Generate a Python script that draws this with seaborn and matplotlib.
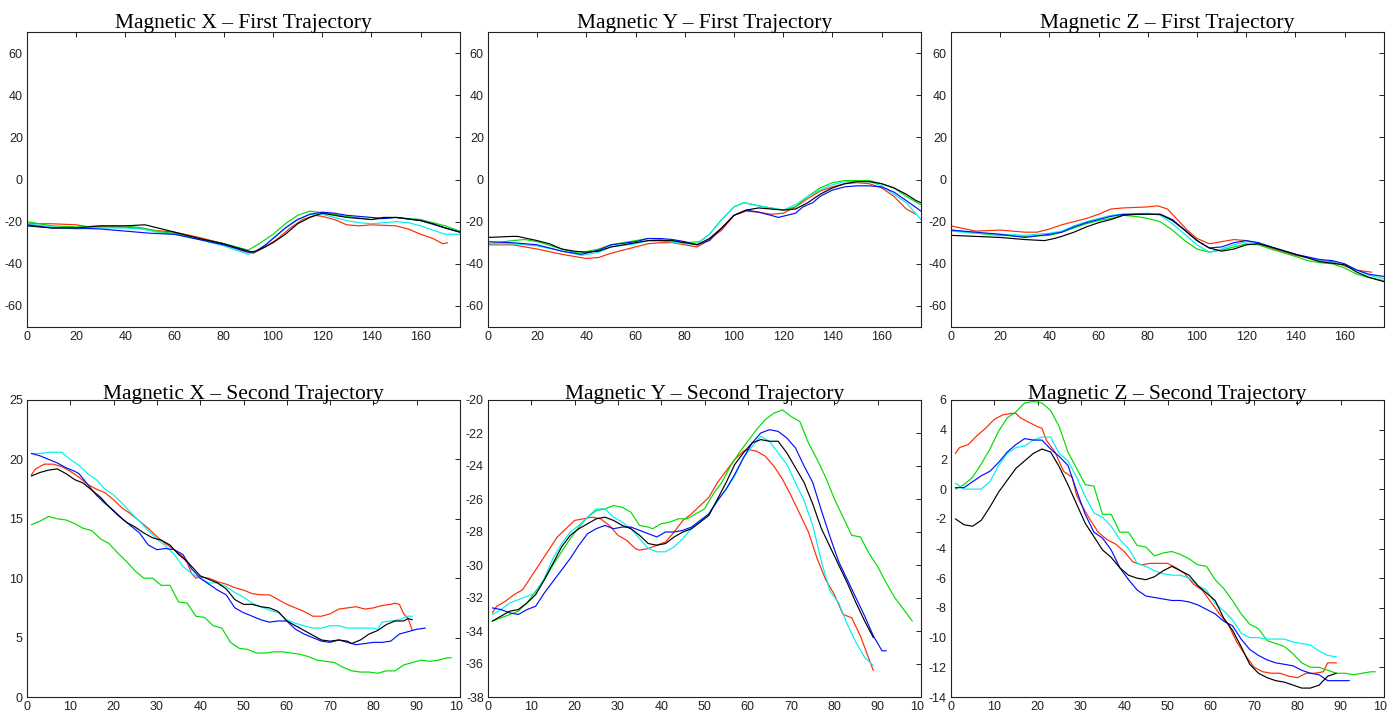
import pandas as pd
import numpy as np
from matplotlib import pyplot as plt
from matplotlib.transforms import Bbox, TransformedBbox
import seaborn as sns

# ---- First trajectory, magnetic X : (sample, value)
MX1_RED = [(0, -21), (10, -21), (20, -21.5), (25, -22.5), (35, -22.5), (45, -23), (50, -24), (60, -25),
           (70, -27.5), (80, -30.5), (88, -34), (92, -35), (97, -32), (102, -28), (107, -23), (112, -19),
           (117, -17), (120, -17.5), (125, -19), (130, -21.5), (135, -22), (140, -21.5), (150, -22),
           (155, -23.5), (160, -26), (165, -28), (169, -30.5), (171, -30)]
MX1_GREEN = [(0, -20), (5, -21), (10, -22), (20, -22.5), (30, -22), (40, -22), (47, -23), (55, -25),
             (60, -25.5), (70, -28), (80, -30.5), (90, -33.5), (95, -30), (100, -26), (105, -21), (110, -17),
             (115, -15), (118, -15.5), (122, -16), (130, -17.5), (140, -19), (150, -18), (160, -19),
             (170, -22), (176, -24.5)]
MX1_BLUE = [(0, -21.5), (10, -23), (20, -23), (30, -23.5), (40, -24.5), (50, -25.5), (60, -26), (70, -28.5),
            (80, -31), (90, -34.5), (93, -34), (97, -31), (100, -28), (105, -23), (110, -19), (115, -16.5),
            (120, -15.5), (125, -16), (130, -17), (140, -18), (145, -18.5), (150, -18), (160, -19.5),
            (170, -23), (176, -25)]
MX1_CYAN = [(0, -21), (10, -22.5), (20, -23.5), (30, -23), (40, -23), (47, -23.5), (55, -25.5), (60, -26),
            (70, -28.5), (80, -31.5), (90, -35.5), (95, -33), (100, -28), (105, -23), (110, -19), (115, -16.5),
            (120, -16.5), (125, -18), (130, -19.5), (135, -20.5), (140, -21), (150, -20), (155, -20.5),
            (160, -22), (165, -24), (170, -26), (176, -26)]
MX1_BLACK = [(0, -22), (10, -23), (20, -23), (30, -22), (40, -22), (48, -21.5), (60, -25), (70, -28),
             (80, -30.5), (90, -34), (92, -34.5), (95, -33), (100, -30), (105, -26), (110, -21), (115, -18),
             (120, -16), (125, -17), (130, -18), (140, -19), (145, -18), (150, -18), (160, -19.5),
             (165, -21), (170, -23), (176, -25)]

# ---- First trajectory, magnetic Y
MY1_RED = [(0, -31), (10, -31), (20, -33), (30, -35.5), (40, -37.5), (45, -37), (50, -35), (55, -33.5),
           (60, -32), (65, -30.5), (70, -30), (75, -30), (80, -31), (85, -32), (88, -30), (95, -24),
           (100, -17), (105, -15), (110, -15.5), (115, -16.5), (120, -16), (125, -13), (130, -9),
           (135, -5.5), (140, -3.5), (145, -2), (150, -1.5), (155, -2), (160, -4), (165, -8), (170, -14),
           (174, -16.5)]
MY1_GREEN = [(0, -30.5), (10, -29), (15, -28.5), (20, -29.5), (30, -33), (37, -35), (45, -33), (50, -31),
             (60, -29), (65, -28), (70, -28.5), (80, -30), (86, -29.5), (90, -26), (95, -19), (100, -13),
             (104, -11), (110, -12.5), (120, -14.5), (125, -13), (130, -8), (135, -4), (140, -1.5),
             (145, -0.5), (150, -0.5), (155, -0.5), (160, -2), (165, -4), (170, -8), (176, -12)]
MY1_BLUE = [(0, -29.5), (10, -30), (20, -31), (30, -34), (38, -35.5), (45, -33.5), (50, -31), (60, -29.5),
            (65, -28), (70, -28), (75, -28.5), (80, -29.5), (85, -31), (90, -29), (95, -23), (100, -17),
            (105, -14.5), (110, -15.5), (115, -17), (118, -18), (125, -16), (128, -13), (132, -11),
            (135, -8), (140, -5), (145, -3.5), (150, -3), (155, -3), (160, -3.5), (165, -6), (170, -10),
            (176, -15)]
MY1_CYAN = [(0, -30.5), (10, -30.5), (20, -31.5), (30, -34), (38, -36), (45, -34.5), (50, -32), (60, -30.5),
            (65, -29), (70, -29), (80, -30.5), (85, -30.5), (90, -26), (95, -19), (100, -13), (104, -11),
            (108, -12), (115, -13.5), (120, -14.5), (125, -12), (130, -8), (135, -5), (140, -2.5),
            (145, -1), (150, -1), (155, -1), (160, -3), (165, -7), (170, -11), (176, -19)]
MY1_BLACK = [(0, -27.5), (10, -27), (12, -27), (20, -29), (25, -30.5), (30, -33), (35, -34), (40, -34.5),
             (45, -34), (50, -32), (55, -31), (60, -30), (65, -29), (75, -29), (80, -30), (85, -31),
             (90, -28), (95, -23), (100, -17), (105, -14.5), (110, -13.5), (115, -14), (120, -14.5),
             (125, -14), (130, -11), (135, -7), (140, -4), (145, -2), (150, -1), (155, -1), (160, -2),
             (165, -4), (170, -7), (174, -10), (176, -11)]

# ---- First trajectory, magnetic Z
MZ1_RED = [(0, -22), (10, -24.5), (20, -24), (30, -25), (35, -25), (40, -23.5), (45, -21.5), (50, -20),
           (55, -18.5), (60, -16.5), (65, -14), (70, -13.5), (80, -13), (84, -12.5), (88, -14), (92, -19),
           (96, -24), (100, -28), (105, -30.5), (110, -29.5), (115, -28.5), (120, -29), (125, -30.5),
           (130, -32.5), (140, -36), (145, -37), (150, -38.5), (155, -39), (160, -41), (165, -43), (171, -44)]
MZ1_GREEN = [(0, -24), (10, -25.5), (20, -26.5), (30, -27), (40, -26.5), (45, -25), (50, -23), (55, -21),
             (60, -19.5), (65, -18.5), (70, -17), (75, -17.5), (80, -18.5), (85, -20), (90, -24), (95, -29),
             (100, -33), (105, -34.5), (110, -33.5), (115, -32), (120, -30.5), (125, -31), (130, -33),
             (140, -36.5), (145, -38.5), (150, -39.5), (155, -40), (160, -42), (165, -45), (170, -46.5),
             (176, -48)]
MZ1_BLUE = [(0, -24), (10, -25), (20, -26), (30, -27.5), (40, -26), (45, -25), (50, -22.5), (55, -20.5),
            (60, -19), (65, -17.5), (70, -16.5), (80, -16.5), (85, -16.5), (90, -19), (95, -24), (100, -29),
            (105, -32.5), (110, -32), (115, -30), (120, -29), (125, -30), (130, -32), (140, -35.5),
            (150, -38), (155, -38.5), (160, -40), (165, -43), (170, -45), (176, -46)]
MZ1_CYAN = [(0, -24.5), (10, -25.5), (20, -26), (30, -26.5), (40, -25.5), (45, -24.5), (50, -22), (55, -20),
            (60, -18.5), (65, -17), (70, -16.5), (80, -16), (85, -17), (90, -21), (95, -26), (100, -31),
            (105, -34.5), (110, -33), (115, -31), (120, -29.5), (125, -30), (130, -32), (140, -35.5),
            (150, -38.5), (160, -40.5), (165, -43), (170, -45.5), (176, -47)]
MZ1_BLACK = [(0, -26.5), (10, -27), (20, -27.5), (30, -28.5), (38, -29), (42, -28), (45, -27), (50, -25),
             (55, -22.5), (60, -20.5), (65, -19), (70, -17), (75, -16.5), (85, -16.5), (90, -19.5),
             (95, -24), (100, -29), (105, -32.5), (110, -34), (115, -33), (120, -31), (125, -30.5),
             (130, -32), (140, -35.5), (150, -39), (160, -40.5), (165, -44), (170, -46.5), (176, -48.5)]

# ---- Second trajectory, magnetic X
MX2_RED = [(1, 18.7), (2, 19.2), (4, 19.6), (6, 19.6), (8, 19.4), (10, 19.0), (12, 18.5), (14, 17.9),
           (16, 17.5), (18, 17.2), (20, 16.6), (22, 15.9), (24, 15.4), (26, 14.8), (28, 14.2), (30, 13.5),
           (32, 12.9), (34, 12.4), (36, 11.8), (37, 11.3), (38, 10.4), (39, 10.0), (40, 10.1), (42, 10.0),
           (44, 9.7), (46, 9.5), (48, 9.2), (50, 9.0), (52, 8.7), (54, 8.6), (56, 8.6), (58, 8.2), (60, 7.8),
           (62, 7.5), (64, 7.2), (66, 6.8), (68, 6.8), (70, 7.0), (72, 7.4), (74, 7.5), (76, 7.6), (78, 7.4),
           (80, 7.5), (82, 7.7), (84, 7.8), (85, 7.9), (86, 7.8), (87, 7.0), (88, 6.6), (89, 5.6)]
MX2_GREEN = [(1, 14.5), (3, 14.8), (5, 15.2), (7, 15.0), (9, 14.9), (11, 14.6), (13, 14.2), (15, 14.0),
             (17, 13.3), (19, 12.9), (21, 12.1), (23, 11.4), (25, 10.6), (27, 10.0), (29, 10.0), (31, 9.4),
             (33, 9.4), (35, 8.0), (37, 7.9), (39, 6.8), (41, 6.7), (43, 6.0), (45, 5.8), (47, 4.6),
             (49, 4.1), (51, 4.0), (53, 3.7), (55, 3.7), (57, 3.8), (59, 3.8), (61, 3.7), (63, 3.6),
             (65, 3.4), (67, 3.1), (69, 3.0), (71, 2.9), (73, 2.5), (75, 2.2), (77, 2.1), (79, 2.1),
             (81, 2.0), (83, 2.2), (85, 2.2), (87, 2.7), (89, 2.9), (91, 3.1), (93, 3.0), (95, 3.1),
             (97, 3.3), (98, 3.3)]
MX2_BLUE = [(1, 20.5), (3, 20.3), (5, 20.0), (7, 19.7), (9, 19.3), (11, 19.0), (12, 18.8), (14, 17.9),
            (16, 17.0), (18, 16.3), (20, 15.7), (22, 15.0), (24, 14.4), (26, 13.8), (28, 12.8), (30, 12.4),
            (32, 12.5), (34, 12.4), (36, 12.0), (38, 10.8), (40, 10.0), (42, 9.5), (44, 9.0), (46, 8.6),
            (48, 7.5), (50, 7.1), (52, 6.8), (54, 6.5), (56, 6.3), (58, 6.4), (60, 6.4), (62, 5.7),
            (64, 5.3), (66, 5.0), (68, 4.7), (70, 4.6), (72, 4.8), (74, 4.6), (76, 4.4), (78, 4.5),
            (80, 4.6), (82, 4.6), (84, 4.7), (86, 5.3), (88, 5.5), (90, 5.7), (92, 5.8)]
MX2_CYAN = [(1, 20.5), (3, 20.5), (5, 20.6), (8, 20.6), (10, 20.0), (12, 19.5), (14, 18.8), (16, 18.3),
            (18, 17.5), (20, 17.0), (22, 16.3), (24, 15.5), (26, 14.8), (28, 14.0), (30, 13.3), (32, 12.7),
            (34, 12.0), (36, 11.0), (38, 10.4), (40, 10.0), (42, 9.6), (44, 9.6), (46, 9.3), (48, 8.8),
            (50, 8.4), (52, 7.9), (54, 7.6), (56, 7.3), (58, 7.1), (60, 6.5), (62, 6.2), (64, 6.0),
            (66, 5.8), (68, 5.8), (70, 6.0), (72, 6.0), (74, 5.8), (76, 5.8), (78, 5.8), (80, 5.8),
            (81, 5.7), (82, 6.3), (84, 6.4), (86, 6.5), (88, 6.8), (89, 6.8)]
MX2_BLACK = [(1, 18.6), (3, 18.9), (5, 19.1), (7, 19.2), (9, 18.8), (11, 18.3), (13, 18.0), (15, 17.4),
             (17, 16.8), (19, 16.0), (21, 15.3), (23, 14.7), (25, 14.3), (27, 13.8), (29, 13.4), (31, 13.2),
             (33, 12.8), (35, 12.0), (37, 11.4), (39, 10.6), (40, 10.2), (42, 9.9), (44, 9.6), (46, 9.1),
             (48, 8.2), (50, 7.8), (52, 7.8), (54, 7.6), (56, 7.5), (58, 7.2), (60, 6.4), (62, 6.0),
             (64, 5.6), (66, 5.2), (68, 4.8), (70, 4.7), (72, 4.8), (74, 4.7), (75, 4.5), (77, 4.8),
             (79, 5.3), (81, 5.6), (83, 6.1), (85, 6.4), (87, 6.4), (88, 6.6), (89, 6.5)]

# ---- Second trajectory, magnetic Y
MY2_RED = [(1, -32.9), (2, -32.5), (4, -32.2), (6, -31.8), (8, -31.5), (10, -30.7), (12, -29.9), (14, -29.1),
           (16, -28.3), (18, -27.8), (20, -27.3), (22, -27.2), (24, -27.1), (26, -27.2), (28, -27.6),
           (30, -28.2), (32, -28.5), (34, -29.0), (35, -29.1), (37, -29.0), (39, -28.8), (41, -28.6),
           (43, -28.0), (45, -27.3), (47, -26.9), (49, -26.4), (51, -25.9), (53, -25.0), (55, -24.3),
           (57, -23.6), (59, -23.1), (60, -23.0), (62, -23.1), (64, -23.4), (66, -24.0), (68, -24.8),
           (70, -25.8), (72, -26.9), (74, -28.0), (76, -29.6), (78, -30.9), (80, -31.8), (82, -33.0),
           (84, -33.2), (86, -34.3), (88, -35.7), (89, -36.4)]
MY2_GREEN = [(1, -33.4), (3, -33.2), (5, -33.0), (7, -32.8), (9, -32.3), (11, -31.6), (13, -30.9),
             (15, -30.0), (17, -29.2), (19, -28.4), (21, -27.7), (23, -27.1), (25, -26.7), (27, -26.6),
             (29, -26.4), (31, -26.5), (33, -26.8), (35, -27.6), (37, -27.7), (38, -27.8), (40, -27.5),
             (42, -27.4), (44, -27.2), (46, -27.2), (48, -26.9), (50, -26.6), (52, -25.7), (54, -25.0),
             (56, -24.0), (58, -23.2), (60, -22.5), (62, -21.8), (64, -21.2), (66, -20.8), (68, -20.6),
             (70, -21.0), (72, -21.3), (74, -22.6), (76, -23.6), (78, -24.7), (80, -26.0), (82, -27.1),
             (84, -28.2), (86, -28.3), (88, -29.3), (90, -30.1), (92, -31.1), (94, -32.0), (96, -32.7),
             (98, -33.4)]
MY2_BLUE = [(1, -32.6), (3, -32.7), (5, -32.9), (7, -33.0), (9, -32.7), (11, -32.5), (13, -31.7),
            (15, -31.0), (17, -30.3), (19, -29.6), (21, -28.8), (23, -28.1), (25, -27.8), (27, -27.6),
            (29, -27.8), (31, -27.7), (33, -27.7), (35, -27.9), (37, -28.1), (39, -28.3), (41, -28.0),
            (43, -28.0), (45, -27.9), (47, -27.7), (49, -27.3), (51, -26.9), (53, -26.1), (55, -25.4),
            (57, -24.5), (59, -23.5), (61, -22.6), (63, -22.0), (65, -21.8), (67, -21.9), (69, -22.3),
            (71, -22.9), (73, -24.0), (75, -25.0), (77, -26.7), (79, -28.3), (81, -29.8), (83, -30.9),
            (85, -32.0), (87, -33.1), (89, -34.3), (91, -35.2), (92, -35.2)]
MY2_CYAN = [(1, -33.0), (3, -32.7), (5, -32.3), (7, -32.1), (9, -31.9), (11, -31.7), (13, -30.8),
            (15, -29.6), (17, -28.7), (19, -28.0), (21, -27.6), (23, -27.1), (25, -26.6), (27, -26.6),
            (29, -27.1), (31, -27.4), (33, -27.8), (35, -28.4), (37, -29.0), (39, -29.2), (41, -29.2),
            (43, -28.9), (45, -28.4), (47, -27.8), (49, -27.4), (51, -26.9), (53, -26.1), (55, -25.4),
            (57, -24.6), (59, -23.5), (61, -22.8), (63, -22.2), (65, -22.5), (67, -23.2), (69, -23.9),
            (71, -25.0), (73, -26.1), (75, -27.6), (77, -29.8), (79, -31.6), (81, -32.3), (83, -33.6),
            (85, -34.7), (87, -35.6), (89, -36.1)]
MY2_BLACK = [(1, -33.4), (3, -33.1), (5, -32.8), (7, -32.7), (9, -32.3), (11, -31.8), (13, -30.9),
             (15, -29.9), (17, -28.9), (19, -28.2), (21, -27.8), (23, -27.5), (25, -27.2), (27, -27.1),
             (29, -27.3), (31, -27.6), (33, -27.8), (35, -28.2), (37, -28.7), (39, -28.8), (41, -28.7),
             (43, -28.3), (45, -28.0), (47, -27.8), (49, -27.4), (51, -27.0), (53, -26.0), (55, -25.0),
             (57, -23.9), (59, -23.2), (61, -22.6), (63, -22.4), (65, -22.5), (67, -22.5), (69, -23.2),
             (71, -24.1), (73, -25.0), (75, -26.3), (77, -27.8), (79, -28.9), (81, -30.0), (83, -31.1),
             (85, -32.3), (87, -33.4), (89, -34.4)]

# ---- Second trajectory, magnetic Z
MZ2_RED = [(1, 2.4), (2, 2.8), (4, 3.0), (6, 3.6), (8, 4.1), (10, 4.7), (12, 5.0), (14, 5.1), (15, 5.1),
           (16, 4.8), (18, 4.5), (20, 4.2), (21, 4.1), (22, 3.3), (24, 2.5), (26, 1.2), (28, 0.8),
           (29, -0.4), (30, -1.0), (32, -2.0), (34, -2.9), (36, -3.4), (38, -3.7), (40, -4.2), (42, -4.9),
           (44, -5.1), (46, -5.0), (48, -5.0), (50, -5.0), (52, -5.3), (54, -5.7), (56, -6.4), (58, -6.8),
           (60, -7.6), (62, -8.4), (64, -9.1), (66, -10.3), (68, -11.2), (70, -12.0), (72, -12.3),
           (74, -12.4), (76, -12.4), (78, -12.6), (80, -12.7), (82, -12.4), (84, -12.4), (86, -12.3),
           (87, -11.7), (89, -11.7)]
MZ2_GREEN = [(1, 0.0), (3, 0.3), (5, 0.8), (7, 1.7), (9, 2.7), (11, 3.9), (13, 4.8), (15, 5.2), (17, 5.8),
             (19, 5.9), (21, 5.8), (23, 5.3), (25, 4.2), (27, 2.5), (29, 1.4), (31, 0.3), (33, 0.2),
             (35, -1.7), (37, -1.7), (39, -2.9), (41, -2.9), (43, -3.8), (45, -3.9), (47, -4.5), (49, -4.3),
             (51, -4.2), (53, -4.4), (55, -4.7), (57, -5.1), (59, -5.2), (61, -6.1), (63, -6.7), (65, -7.5),
             (67, -8.4), (69, -9.1), (71, -9.4), (73, -10.2), (75, -10.4), (77, -10.6), (79, -11.1),
             (81, -11.7), (83, -12.0), (85, -12.0), (87, -12.2), (89, -12.4), (91, -12.4), (93, -12.5),
             (95, -12.4), (97, -12.3), (98, -12.3)]
MZ2_BLUE = [(1, 0.1), (3, 0.1), (5, 0.5), (7, 0.9), (9, 1.2), (11, 1.8), (13, 2.5), (15, 3.0), (17, 3.4),
            (19, 3.3), (21, 3.3), (23, 2.7), (25, 2.2), (27, 1.6), (29, -0.1), (31, -1.7), (33, -2.9),
            (35, -3.3), (37, -4.1), (39, -5.3), (41, -6.1), (43, -6.8), (45, -7.2), (47, -7.3), (49, -7.4),
            (51, -7.5), (53, -7.5), (55, -7.6), (57, -7.8), (59, -8.1), (61, -8.4), (63, -8.9), (65, -9.2),
            (67, -10.1), (69, -10.8), (71, -11.2), (73, -11.5), (75, -11.7), (77, -11.8), (79, -11.9),
            (81, -12.2), (83, -12.4), (85, -12.5), (87, -12.9), (89, -12.9), (92, -12.9)]
MZ2_CYAN = [(1, 0.4), (3, 0.0), (5, 0.0), (7, 0.0), (9, 0.5), (11, 1.6), (13, 2.4), (15, 2.8), (17, 2.9),
            (19, 3.3), (21, 3.5), (23, 3.5), (25, 2.4), (27, 1.9), (29, 0.8), (31, -0.5), (33, -1.6),
            (35, -1.9), (37, -2.5), (39, -3.4), (41, -4.0), (43, -5.0), (45, -5.2), (47, -5.5), (49, -5.7),
            (51, -5.8), (53, -5.8), (55, -6.0), (57, -6.5), (59, -6.8), (61, -7.7), (63, -8.2), (65, -8.8),
            (67, -9.7), (69, -10.0), (71, -10.0), (73, -10.1), (75, -10.1), (77, -10.1), (79, -10.3),
            (81, -10.4), (83, -10.5), (85, -10.9), (87, -11.2), (89, -11.3)]
MZ2_BLACK = [(1, -2.0), (3, -2.4), (5, -2.5), (7, -2.1), (9, -1.2), (11, -0.2), (13, 0.6), (15, 1.4),
             (17, 1.9), (19, 2.4), (21, 2.7), (23, 2.5), (25, 1.5), (27, 0.3), (29, -1.0), (31, -2.3),
             (33, -3.2), (35, -4.1), (37, -4.6), (39, -5.3), (41, -5.8), (43, -6.0), (45, -6.1), (47, -5.9),
             (49, -5.5), (51, -5.2), (53, -5.5), (55, -5.8), (57, -6.5), (59, -7.0), (61, -7.5), (63, -8.7),
             (65, -9.5), (67, -10.6), (69, -11.8), (71, -12.4), (73, -12.7), (75, -12.9), (77, -13.0),
             (79, -13.2), (81, -13.4), (83, -13.4), (85, -13.2), (87, -12.6), (89, -12.4)]

SENSORS = ['red', 'green', 'cyan', 'blue', 'black']
COLORS = {'red': '#ff2a00', 'green': '#00dd00', 'cyan': '#00f0f0', 'blue': '#0010ff', 'black': '#000000'}

TITLES = ['Magnetic X \u2013 First Trajectory', 'Magnetic Y \u2013 First Trajectory',
          'Magnetic Z \u2013 First Trajectory', 'Magnetic X \u2013 Second Trajectory',
          'Magnetic Y \u2013 Second Trajectory', 'Magnetic Z \u2013 Second Trajectory']

PANELS = [
    [MX1_RED, MX1_GREEN, MX1_CYAN, MX1_BLUE, MX1_BLACK],
    [MY1_RED, MY1_GREEN, MY1_CYAN, MY1_BLUE, MY1_BLACK],
    [MZ1_RED, MZ1_GREEN, MZ1_CYAN, MZ1_BLUE, MZ1_BLACK],
    [MX2_RED, MX2_GREEN, MX2_CYAN, MX2_BLUE, MX2_BLACK],
    [MY2_RED, MY2_GREEN, MY2_CYAN, MY2_BLUE, MY2_BLACK],
    [MZ2_RED, MZ2_GREEN, MZ2_CYAN, MZ2_BLUE, MZ2_BLACK],
]

Y_LIMITS = [(-70, 70), (-70, 70), (-70, 70), (0, 25), (-38, -20), (-14, 6)]
Y_STEPS = [20, 20, 20, 5, 2, 2]


def to_frame(series_list):
    rows = []
    for name, pts in zip(SENSORS, series_list):
        for x, y in pts:
            rows.append((name, x, y))
    return pd.DataFrame(rows, columns=['sensor', 'sample', 'value'])


sns.set_style('white')
plt.rcParams['font.family'] = ['Liberation Sans', 'DejaVu Sans']
plt.rcParams['axes.unicode_minus'] = False

fig = plt.figure(figsize=(13.98, 7.17), dpi=100)
W, H = 1398, 717
lefts = [27, 488, 951]

for i, series in enumerate(PANELS):
    row, col = divmod(i, 3)
    if row == 0:
        top, bot = 32, 327
    else:
        top, bot = 400, 697
    ax = fig.add_axes([lefts[col] / W, 1 - bot / H, 433 / W, (bot - top) / H])
    df = to_frame(series)
    sns.lineplot(data=df, x='sample', y='value', hue='sensor', hue_order=SENSORS,
                 palette=COLORS, estimator=None, sort=False, legend=False,
                 linewidth=0.85, ax=ax)

    if row == 0:
        ax.set_xlim(0, 176)
        ax.set_xticks(np.arange(0, 161, 20))
    else:
        ax.set_xlim(0, 100)
        ax.set_xticks(np.arange(0, 101, 10))
    lo, hi = Y_LIMITS[i]
    ax.set_ylim(lo, hi)
    ax.set_yticks(np.arange(lo if row else -60, hi + 0.1 if row else 61, Y_STEPS[i]))
    ax.set_xlabel('')
    ax.set_ylabel('')
    ax.set_title(TITLES[i], family='Liberation Serif', fontsize=15.5, color='black',
                 pad=3 if row == 0 else 1)
    ax.tick_params(direction='in', top=True, right=True, length=3.5, width=0.7,
                   labelsize=9, colors='#222222', pad=3)
    for sp in ax.spines.values():
        sp.set_visible(True)
        sp.set_color('#222222')
        sp.set_linewidth(0.8)

    # the rightmost x label is cut off in the original
    if row == 1:
        right = (lefts[col] + 433 + 3) / W
        clip = TransformedBbox(Bbox([[0, 0], [right, 1]]), fig.transFigure)
        for lab in ax.get_xticklabels():
            lab.set_clip_box(clip)
            lab.set_clip_on(True)

fig.savefig('out.png', dpi=100)
